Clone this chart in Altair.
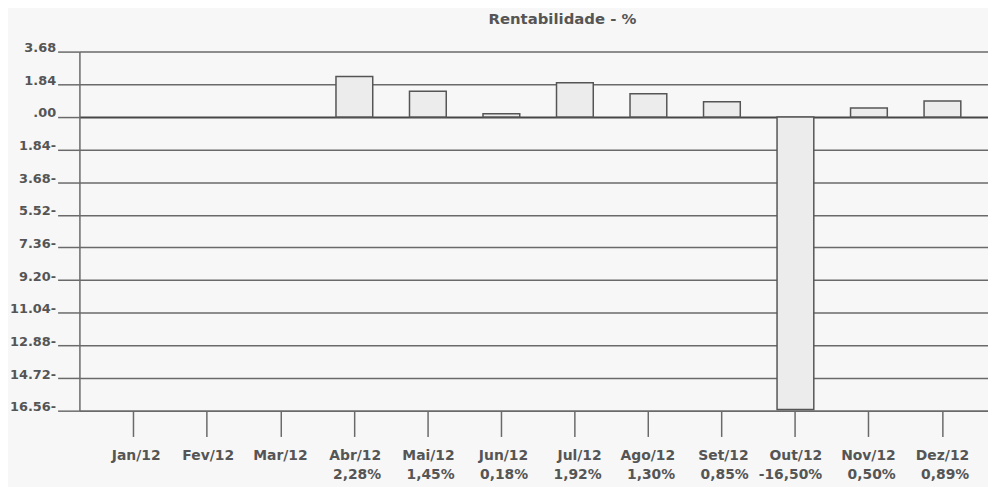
import altair as alt
import pandas as pd

months = ["Jan/12", "Fev/12", "Mar/12", "Abr/12", "Mai/12", "Jun/12",
          "Jul/12", "Ago/12", "Set/12", "Out/12", "Nov/12", "Dez/12"]
values = [None, None, None, 2.28, 1.45, 0.18, 1.92, 1.30, 0.85, -16.50, 0.50, 0.89]
pct_labels = ["", "", "", "2,28%", "1,45%", "0,18%", "1,92%", "1,30%", "0,85%",
              "-16,50%", "0,50%", "0,89%"]
y_ticks = [3.68, 1.84, 0.0, -1.84, -3.68, -5.52, -7.36, -9.20, -11.04,
           -12.88, -14.72, -16.56]

cats = [m if p == "" else m + "|" + p for m, p in zip(months, pct_labels)]
df = pd.DataFrame({"cat": cats, "value": values})

FONT = "DejaVu Sans"
TXT = "#555555"
LINE = "#6a6a6a"

x_enc = alt.X(
    "cat:N", sort=cats, title=None,
    scale=alt.Scale(paddingInner=0.5, paddingOuter=0.43, align=0.57),
    axis=alt.Axis(
        labelExpr="split(datum.value, '|')",
        labelAngle=0, labelAlign="right", labelOffset=27, labelBaseline="top",
        labelPadding=12, labelLineHeight=19,
        labelFont=FONT, labelFontWeight="bold", labelFontSize=14, labelColor=TXT,
        tickSize=26, tickColor=LINE, tickWidth=1.5,
        domainColor=LINE, domainWidth=1.5, grid=False,
    ),
)

y_enc = alt.Y(
    "value:Q", title=None,
    scale=alt.Scale(domain=[-16.56, 3.68], nice=False, zero=False),
    axis=alt.Axis(
        values=y_ticks, labelOverlap=False, labelFlush=False, labelBound=False,
        labelExpr="datum.value > 0.001 ? format(datum.value, '.2f') : (datum.value > -0.001 ? '.00' : format(-datum.value, '.2f') + '-')",
        labelFont=FONT, labelFontWeight="bold", labelFontSize=13, labelColor=TXT,
        labelBaseline="alphabetic", labelPadding=2,
        tickSize=22, tickColor=LINE, tickWidth=1.5,
        grid=True,
        gridColor={"condition": {"test": "abs(datum.value) < 0.001", "value": "#474747"}, "value": LINE},
        gridWidth={"condition": {"test": "abs(datum.value) < 0.001", "value": 2}, "value": 1.5},
        domainColor=LINE, domainWidth=1.5,
    ),
)

bars = alt.Chart(df).mark_bar(
    fill="#ececec", stroke="#555555", strokeWidth=1.5
).encode(x=x_enc, y=y_enc)

chart = bars.properties(
    width=916,
    height=362,
    autosize=alt.AutoSizeParams(type="none"),
    padding={"left": 72, "top": 42, "right": 0, "bottom": 75},
    background="#f7f7f7",
    title=alt.TitleParams(
        "Rentabilidade - %", font=FONT, fontWeight="bold", fontSize=15,
        color=TXT, anchor="middle", dx=29, offset=15,
    ),
).configure_view(stroke=None)

chart.save("out.html", embed_options={"renderer": "svg", "actions": False})
